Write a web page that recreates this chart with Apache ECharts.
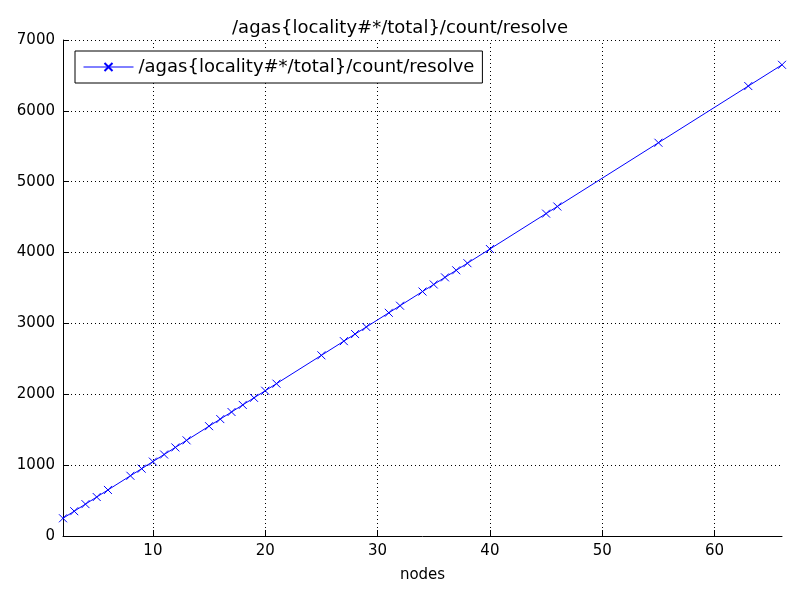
<!DOCTYPE html>
<html>
<head>
<meta charset="utf-8">
<script src="https://cdn.jsdelivr.net/npm/echarts@6/dist/echarts.min.js"></script>
<style>html,body{margin:0;padding:0;background:#fff}#main{width:800px;height:600px}</style>
</head>
<body>
<div id="main"></div>
<script>
var nodes = [2,3,4,5,6,8,9,10,11,12,13,15,16,17,18,19,20,21,25,27,28,29,31,32,34,35,36,37,38,40,45,46,55,63,66];
var resolveCount = [250,350,450,550,650,850,950,1050,1150,1250,1350,1550,1650,1750,1850,1950,2050,2150,2550,2750,2850,2950,3150,3250,3450,3550,3650,3750,3850,4050,4550,4650,5550,6350,6650];
var xTicks = [10,20,30,40,50,60];
var seriesName = '/agas{locality#*/total}/count/resolve';

var points = [];
for (var i = 0; i < nodes.length; i++) points.push([nodes[i], resolveCount[i]]);
var gridLines = xTicks.map(function (v) { return {xAxis: v}; });

var chart = echarts.init(document.getElementById('main'));
var font = 'DejaVu Sans';
chart.setOption({
  animation: false,
  title: {
    text: seriesName, left: 'center', top: 14,
    textStyle: {fontFamily: font, fontSize: 18, fontWeight: 'normal', color: '#000'}
  },
  legend: {
    data: [seriesName], left: 75, top: 51, orient: 'vertical',
    backgroundColor: '#fff', borderColor: '#000', borderWidth: 1, borderRadius: 0,
    padding: [7, 8, 7, 8], itemWidth: 50, itemHeight: 10,
    lineStyle: {width: 1},
    textStyle: {fontFamily: font, fontSize: 18, color: '#000'}
  },
  grid: {left: 63, right: 18, top: 40, bottom: 64},
  xAxis: {
    type: 'value', min: 2, max: 66,
    name: 'nodes', nameLocation: 'middle', nameGap: 32,
    nameTextStyle: {fontFamily: font, fontSize: 15, color: '#000'},
    axisLine: {show: true, lineStyle: {color: '#000'}},
    axisTick: {show: true, inside: true, length: 6, lineStyle: {color: '#000'}, customValues: xTicks},
    axisLabel: {fontFamily: font, fontSize: 15, color: '#000', margin: 8, customValues: xTicks},
    splitLine: {show: false}
  },
  yAxis: {
    type: 'value', min: 0, max: 7000, interval: 1000,
    axisLine: {show: true, lineStyle: {color: '#000'}},
    axisTick: {show: true, inside: true, length: 6, lineStyle: {color: '#000'}},
    axisLabel: {fontFamily: font, fontSize: 15, color: '#000', margin: 8,
      formatter: function (v) { return String(v); }},
    splitLine: {show: true, lineStyle: {color: '#000', type: [1, 3]}}
  },
  series: [{
    name: seriesName, type: 'line', data: points, z: 3,
    symbol: 'path://M0,0L10,10M10,0L0,10', symbolSize: 8,
    lineStyle: {color: '#0000ff', width: 1},
    itemStyle: {color: 'none', borderColor: '#0000ff', borderWidth: 1},
    markLine: {
      silent: true, symbol: 'none', label: {show: false}, z: 1,
      lineStyle: {color: '#000', type: [1, 3], width: 1},
      emphasis: {disabled: true},
      data: gridLines
    }
  }]
});
</script>
</body>
</html>
